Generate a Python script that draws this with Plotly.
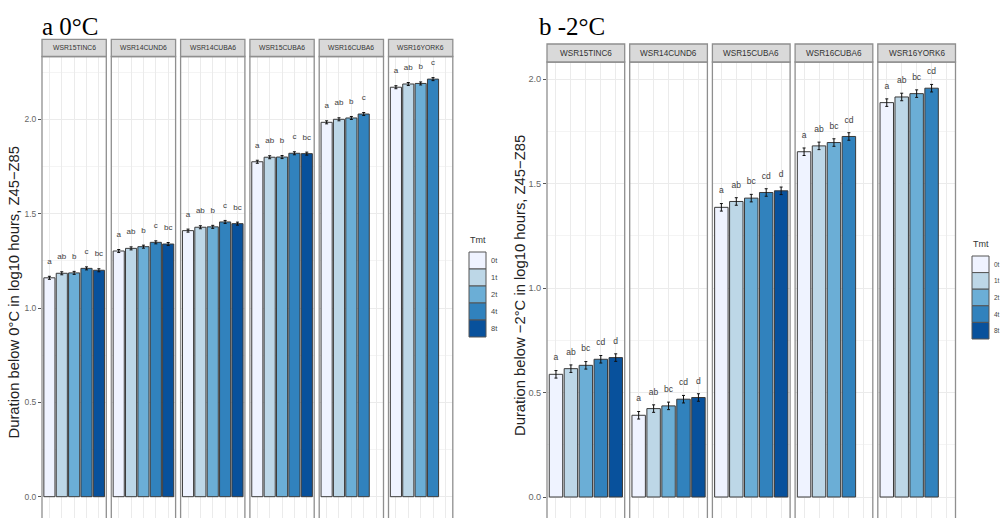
import plotly.graph_objects as go

W, H = 1002, 518

# ---------------- data ----------------
TREATMENTS = ["0t", "1t", "2t", "4t", "8t"]
COLORS = ["#eff3ff", "#bdd7e7", "#6baed6", "#3182bd", "#08519c"]

A_SITES = ["WSR15TINC6", "WSR14CUND6", "WSR14CUBA6", "WSR15CUBA6", "WSR16CUBA6", "WSR16YORK6"]
A_MEANS = [
    [1.160, 1.184, 1.186, 1.210, 1.200],
    [1.302, 1.316, 1.325, 1.348, 1.339],
    [1.410, 1.428, 1.430, 1.456, 1.447],
    [1.775, 1.799, 1.800, 1.820, 1.818],
    [1.984, 2.000, 2.007, 2.028],
    [2.170, 2.187, 2.190, 2.213],
]
A_SE = [
    [0.008, 0.008, 0.008, 0.008, 0.008],
    [0.008, 0.008, 0.008, 0.008, 0.008],
    [0.008, 0.008, 0.008, 0.008, 0.008],
    [0.008, 0.008, 0.008, 0.008, 0.008],
    [0.008, 0.008, 0.008, 0.008],
    [0.008, 0.008, 0.008, 0.008],
]
A_LETTERS = [
    ["a", "ab", "b", "c", "bc"],
    ["a", "ab", "b", "c", "bc"],
    ["a", "ab", "b", "c", "bc"],
    ["a", "ab", "b", "c", "bc"],
    ["a", "ab", "b", "c"],
    ["a", "ab", "b", "c"],
]

B_SITES = ["WSR15TINC6", "WSR14CUND6", "WSR15CUBA6", "WSR16CUBA6", "WSR16YORK6"]
B_MEANS = [
    [0.587, 0.614, 0.630, 0.659, 0.667],
    [0.391, 0.423, 0.436, 0.468, 0.476],
    [1.386, 1.414, 1.430, 1.457, 1.465],
    [1.652, 1.680, 1.696, 1.725],
    [1.887, 1.914, 1.930, 1.956],
]
B_SE = [
    [0.018, 0.018, 0.018, 0.018, 0.018],
    [0.018, 0.018, 0.018, 0.018, 0.018],
    [0.018, 0.018, 0.018, 0.018, 0.018],
    [0.018, 0.018, 0.018, 0.018],
    [0.018, 0.018, 0.018, 0.018],
]
B_LETTERS = [
    ["a", "ab", "bc", "cd", "d"],
    ["a", "ab", "bc", "cd", "d"],
    ["a", "ab", "bc", "cd", "d"],
    ["a", "ab", "bc", "cd"],
    ["a", "ab", "bc", "cd"],
]

Y_TICKS = [0, 0.5, 1.0, 1.5, 2.0]
Y_TICK_TEXT = ["0.0", "0.5", "1.0", "1.5", "2.0"]
Y_MINOR = [0.25, 0.75, 1.25, 1.75, 2.25]

TITLE_A = "a 0°C"
TITLE_B = "b -2°C"
YTITLE_A = "Duration below 0°C in log10 hours, Z45−Z85"
YTITLE_B = "Duration below −2°C in log10 hours, Z45−Z85"
LEGEND_TITLE = "Tmt"


def fx(p):
    return p / W


def fy(p):
    return 1 - p / H


GRID = "#ebebeb"
MINOR = "#f4f4f4"
BORDER = "#8f8f8f"
STRIP_FILL = "#d9d9d9"
TXT = "#4d4d4d"

# ---------------- panel geometry (pixels) ----------------
PANELS = [
    dict(sites=A_SITES, means=A_MEANS, se=A_SE, letters=A_LETTERS,
         x_start=42.0, width=64.3, step=69.3,
         strip_top=39.3, panel_top=56.5, zero_px=496.7, px_per_unit=188.7,
         label_off=0.085, strip_font=6.8, tick_font=8.5, letter_font=8,
         title=TITLE_A, title_x=40, ytitle=YTITLE_A, ytitle_x=13.5, ytitle_y=292,
         leg_x=469, leg_title_y=240, leg_top=252, leg_h=17, leg_w=17, leg_font=7.5),
    dict(sites=B_SITES, means=B_MEANS, se=B_SE, letters=B_LETTERS,
         x_start=547.0, width=77.7, step=82.7,
         strip_top=44.0, panel_top=62.0, zero_px=497.0, px_per_unit=209.0,
         label_off=0.077, strip_font=8.2, tick_font=9.2, letter_font=8.5,
         title=TITLE_B, title_x=537, ytitle=YTITLE_B, ytitle_x=520, ytitle_y=286,
         leg_x=972, leg_title_y=244, leg_top=256, leg_h=16.6, leg_w=17, leg_font=6.5),
]

fig = go.Figure()
layout = dict(
    width=W, height=H, margin=dict(l=0, r=0, t=0, b=0),
    paper_bgcolor="white", plot_bgcolor="white", showlegend=False,
    font=dict(family="Liberation Sans, Arial, sans-serif", color=TXT),
)
shapes = []
annotations = []

xi = 0
for pi, P in enumerate(PANELS):
    yname = "y" if pi == 0 else "y2"
    ykey = "yaxis" if pi == 0 else "yaxis2"
    y_lo = (P["zero_px"] - H) / P["px_per_unit"]
    y_hi = (P["zero_px"] - P["panel_top"]) / P["px_per_unit"]
    first_x = None
    for fi, site in enumerate(P["sites"]):
        xi += 1
        xname = "x" if xi == 1 else f"x{xi}"
        xkey = "xaxis" if xi == 1 else f"xaxis{xi}"
        if first_x is None:
            first_x = xname
        x0 = P["x_start"] + fi * P["step"]
        x1 = x0 + P["width"]
        layout[xkey] = dict(
            domain=[fx(x0), fx(x1)], range=[0.4, 5.6], anchor=yname,
            tickvals=[1, 2, 3, 4, 5], showticklabels=False, ticks="",
            showgrid=True, gridcolor=GRID, gridwidth=1, zeroline=False, showline=False,
            fixedrange=True,
        )
        means = P["means"][fi]
        n = len(means)
        xs = list(range(1, n + 1))
        fig.add_trace(go.Bar(
            x=xs, y=means, width=0.9,
            marker=dict(color=COLORS[:n], line=dict(color="#3a3a3a", width=1)),
            error_y=dict(type="data", array=P["se"][fi], color="#111111", thickness=1, width=1.5),
            xaxis=xname, yaxis=yname, hoverinfo="skip",
        ))
        fig.add_trace(go.Scatter(
            x=xs, y=[m + P["label_off"] for m in means], mode="text",
            text=P["letters"][fi], textposition="middle center",
            textfont=dict(size=P["letter_font"], color="#3d3d3d"),
            xaxis=xname, yaxis=yname, hoverinfo="skip", cliponaxis=False,
        ))
        # panel border
        shapes.append(dict(type="rect", xref="paper", yref="paper",
                           x0=fx(x0), x1=fx(x1), y0=fy(H + 5), y1=fy(P["panel_top"]),
                           line=dict(color=BORDER, width=1.3), fillcolor="rgba(0,0,0,0)",
                           layer="above"))
        # strip
        shapes.append(dict(type="rect", xref="paper", yref="paper",
                           x0=fx(x0), x1=fx(x1), y0=fy(P["panel_top"]), y1=fy(P["strip_top"]),
                           line=dict(color=BORDER, width=1.3), fillcolor=STRIP_FILL,
                           layer="above"))
        annotations.append(dict(
            text=site, xref="paper", yref="paper",
            x=fx((x0 + x1) / 2), y=fy((P["strip_top"] + P["panel_top"]) / 2),
            xanchor="center", yanchor="middle", showarrow=False,
            font=dict(size=P["strip_font"], color="#333333"),
        ))
    # y axis
    layout[ykey] = dict(
        domain=[0, fy(P["panel_top"])], range=[y_lo, y_hi], anchor=first_x,
        tickvals=Y_TICKS, ticktext=Y_TICK_TEXT, ticks="outside", ticklen=3,
        tickcolor="#555555", tickwidth=1, tickfont=dict(size=P["tick_font"], color="#666666"),
        showgrid=True, gridcolor=GRID, gridwidth=1, zeroline=False, showline=False,
        minor=dict(tickvals=Y_MINOR, showgrid=True, gridcolor=MINOR, gridwidth=0.6, ticks=""),
        fixedrange=True,
    )
    # titles
    annotations.append(dict(
        text=P["title"], xref="paper", yref="paper", x=fx(P["title_x"]), y=fy(41.5),
        xanchor="left", yanchor="bottom", showarrow=False,
        font=dict(family="Liberation Serif, Times New Roman, serif", size=25, color="black"),
    ))
    annotations.append(dict(
        text=P["ytitle"], xref="paper", yref="paper", x=fx(P["ytitle_x"]), y=fy(P["ytitle_y"]),
        xanchor="center", yanchor="middle", textangle=-90, showarrow=False,
        font=dict(size=14.8, color="#222222"),
    ))
    # legend (manual, ggplot style)
    annotations.append(dict(
        text=LEGEND_TITLE, xref="paper", yref="paper", x=fx(P["leg_x"] - 1), y=fy(P["leg_title_y"]),
        xanchor="left", yanchor="middle", showarrow=False,
        font=dict(size=9, color="#333333"),
    ))
    for ti, (lab, col) in enumerate(zip(TREATMENTS, COLORS)):
        top = P["leg_top"] + ti * P["leg_h"]
        shapes.append(dict(type="rect", xref="paper", yref="paper",
                           x0=fx(P["leg_x"]), x1=fx(P["leg_x"] + P["leg_w"]),
                           y0=fy(top + P["leg_h"]), y1=fy(top),
                           line=dict(color="#555555", width=1), fillcolor=col, layer="above"))
        annotations.append(dict(
            text=lab, xref="paper", yref="paper",
            x=fx(P["leg_x"] + P["leg_w"] + 3), y=fy(top + P["leg_h"] / 2),
            xanchor="left", yanchor="middle", showarrow=False,
            font=dict(size=P["leg_font"], color="#444444"),
        ))

layout["shapes"] = shapes
layout["annotations"] = annotations
fig.update_layout(**layout)
fig.write_html(
    "out.html",
    config={"displayModeBar": False},
    post_script="document.body.style.margin='0';document.body.style.padding='0';"
                "document.body.style.overflow='hidden';",
)
